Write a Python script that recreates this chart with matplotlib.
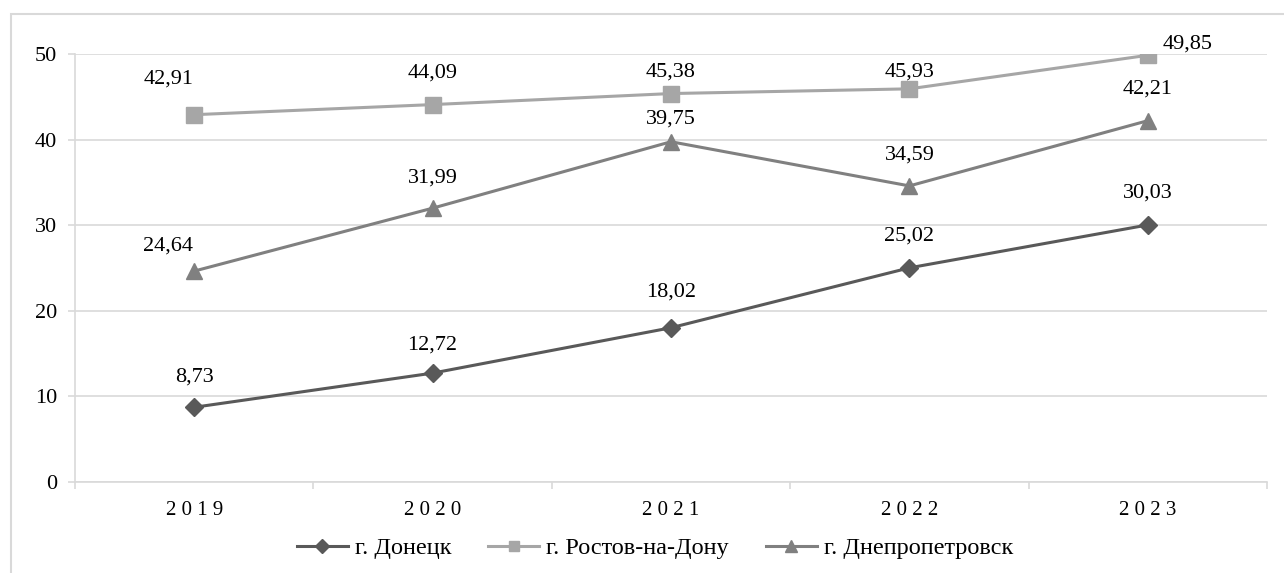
import matplotlib
matplotlib.use('Agg')
import matplotlib.pyplot as plt
from matplotlib.patches import Rectangle

# donnees du graphique
years = ['2019', '2020', '2021', '2022', '2023']
donetsk = [8.73, 12.72, 18.02, 25.02, 30.03]
rostov = [42.91, 44.09, 45.38, 45.93, 49.85]
dnepr = [24.64, 31.99, 39.75, 34.59, 42.21]
names = ['г. Донецк', 'г. Ростов-на-Дону', 'г. Днепропетровск']

plt.rcParams['font.family'] = ['Liberation Serif', 'DejaVu Serif']

fig = plt.figure(figsize=(12.84, 5.73), dpi=100)
ax = fig.add_axes([75/1284, 1-482/573, (1267-75)/1284, (482-54)/573])

# cadre gris autour du graphique
fig.patches.append(Rectangle((11/1284, -0.1), 1.2, 1.1 - 14/573, transform=fig.transFigure,
                             fill=False, edgecolor='#d9d9d9', linewidth=1.5, zorder=0))

x = range(len(years))
series = [
    (donetsk, '#595959', 'D', 9.5),
    (rostov, '#a6a6a6', 's', 11),
    (dnepr, '#808080', '^', 11.5),
]
lines = []
for (vals, col, mk, ms), name in zip(series, names):
    l, = ax.plot(x, vals, color=col, linewidth=2.2, marker=mk, markersize=ms,
                 markeredgecolor=col, markerfacecolor=col, label=name, zorder=3)
    lines.append(l)

# decalage des etiquettes (en pixels)
offsets = [
    [(0, 30), (0, 28), (0, 36), (0, 32), (0, 32)],
    [(-26, 36), (0, 32), (0, 22), (0, 17), (40, 11)],
    [(-26, 25), (0, 30), (0, 23), (0, 31), (0, 32)],
]
for (vals, col, mk, ms), offs in zip(series, offsets):
    for i, v in enumerate(vals):
        ax.annotate(('%.2f' % v).replace('.', ','), (i, v), textcoords='offset pixels',
                    xytext=offs[i], ha='center', va='center', fontsize=16, color='black')

ax.set_xlim(-0.5, 4.5)
ax.set_ylim(0, 50)
ax.set_yticks(range(0, 51, 10))
ax.tick_params(axis='y', labelsize=16, length=5, color='#d9d9d9', width=1.2, pad=8)
ax.set_xticks([i - 0.5 for i in range(6)])
ax.set_xticklabels([])
ax.tick_params(axis='x', which='major', length=5, color='#d9d9d9', width=1.2)
ax.set_xticks(list(x), minor=True)
ax.set_xticklabels([' '.join(y) for y in years], minor=True)
ax.tick_params(axis='x', which='minor', length=0, labelsize=15, pad=14)
ax.grid(axis='y', color='#d9d9d9', linewidth=1.2)
ax.set_axisbelow(True)
for s in ['top', 'right']:
    ax.spines[s].set_visible(False)
for s in ['left', 'bottom']:
    ax.spines[s].set_color('#d9d9d9')
    ax.spines[s].set_linewidth(1.2)

fig.legend(handles=lines, loc='center', bbox_to_anchor=(655/1284, 1-548/573), ncol=3,
           frameon=False, fontsize=17.5, handlelength=2.1, handletextpad=0.3,
           columnspacing=1.5, markerscale=0.7)

plt.savefig('out.png', dpi=100)
